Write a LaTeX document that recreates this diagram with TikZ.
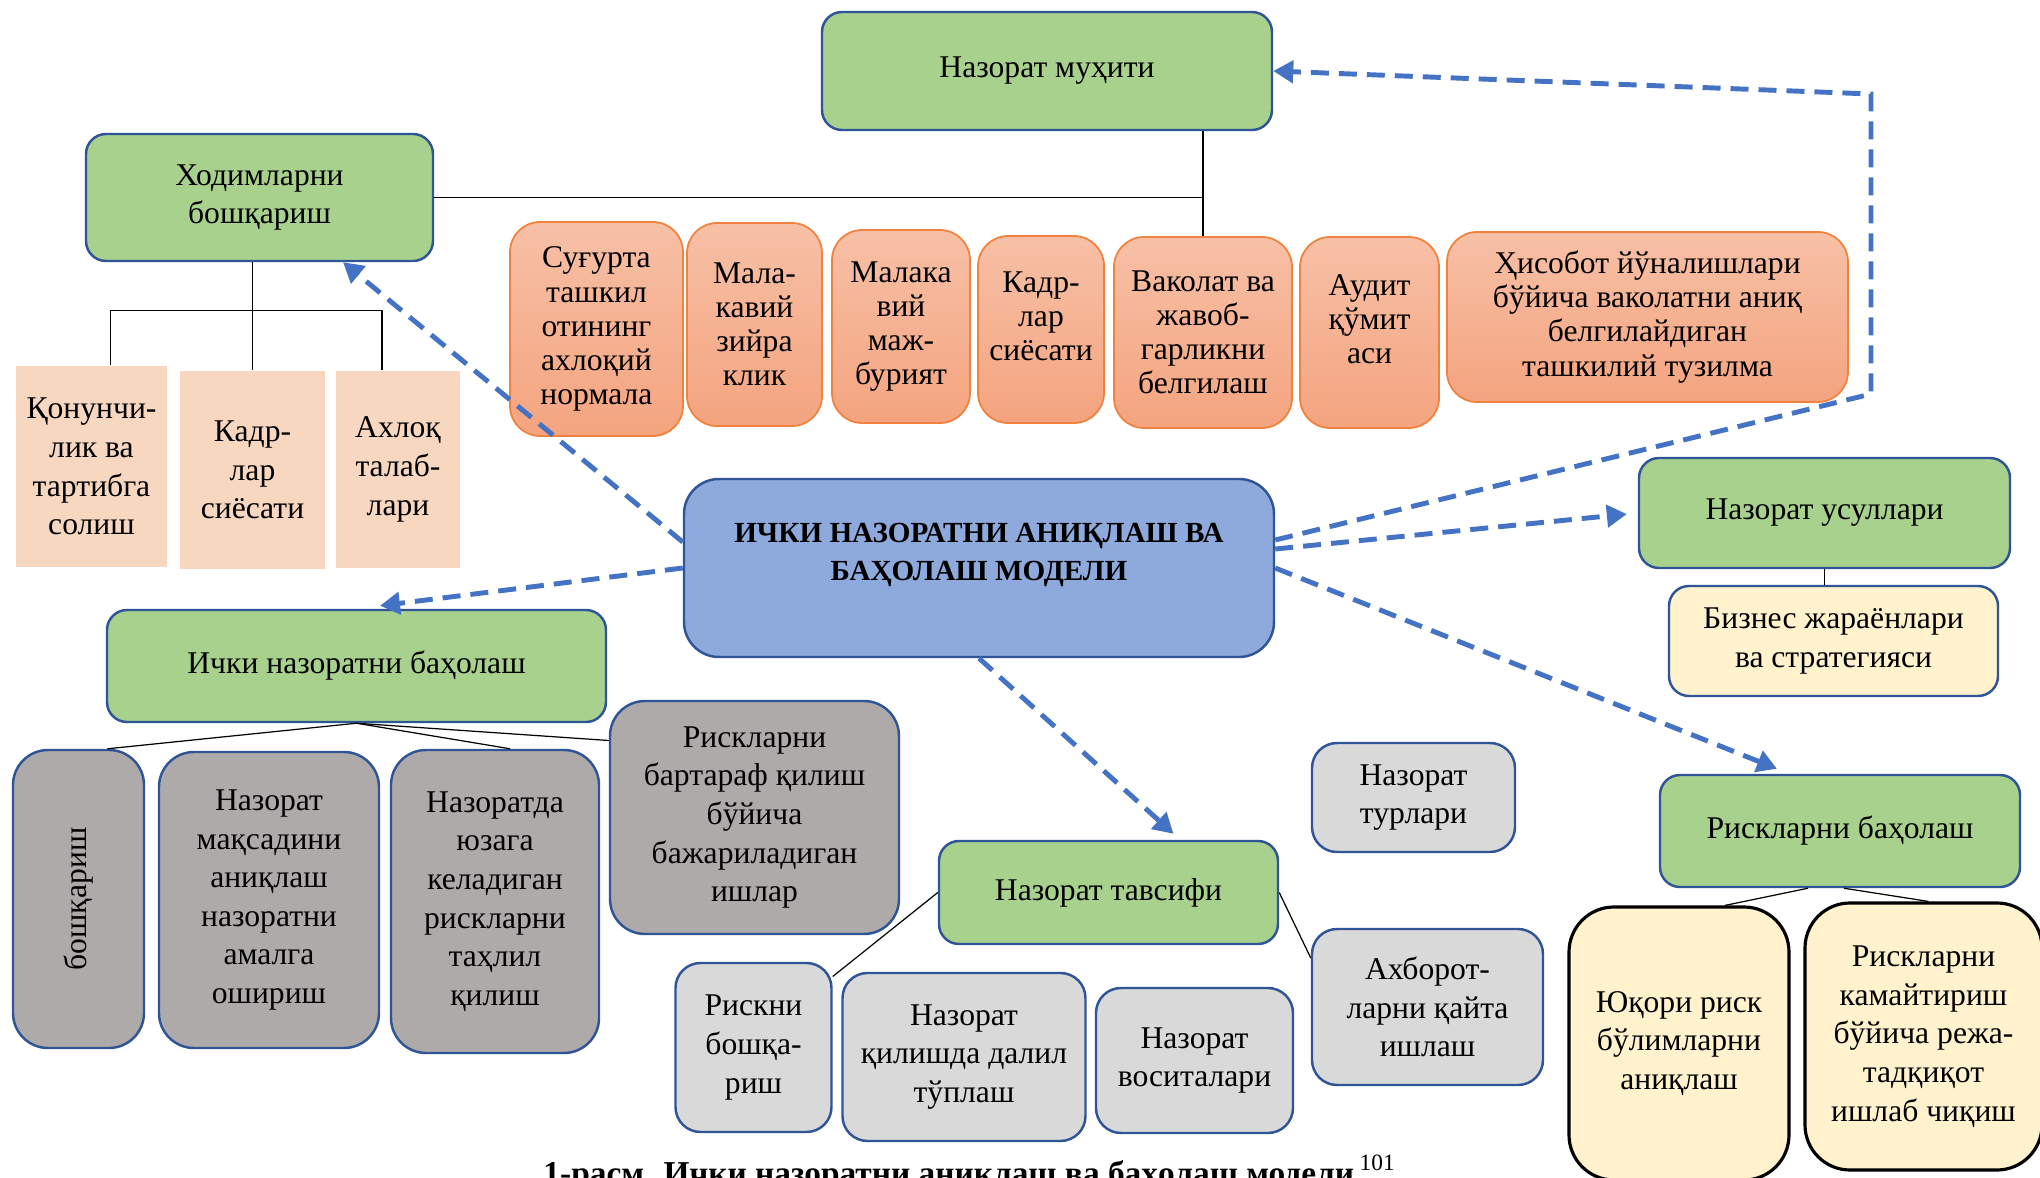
\documentclass[tikz,border=0pt]{standalone}
\usepackage{fontspec}
\setmainfont{Liberation Serif}
\usetikzlibrary{arrows.meta,positioning}

\definecolor{boxgreen}{HTML}{A9D18E}
\definecolor{boxblue}{HTML}{8EA9DB}
\definecolor{edgeblue}{HTML}{2F5597}
\definecolor{flowblue}{HTML}{4472C4}
\definecolor{peach}{HTML}{F8D7C0}
\definecolor{orangetop}{HTML}{F7C0A6}
\definecolor{orangebot}{HTML}{F4A47F}
\definecolor{orangeedge}{HTML}{F0823E}
\definecolor{darkgrey}{HTML}{AEAAAA}
\definecolor{lightgrey}{HTML}{D9D9D9}
\definecolor{cream}{HTML}{FFF2CC}

\begin{document}
\begin{tikzpicture}
  [every node/.style={align=center,font=\fontsize{9}{11}\selectfont,inner sep=1pt},
   dims/.style 2 args={minimum width=#1cm,minimum height=#2cm},
   box/.style={draw=edgeblue,line width=0.7pt,rounded corners=0.2cm},
   link/.style={draw=black,line width=0.35pt},
   flow/.style={-{Triangle[length=0.2cm,width=0.22cm]},draw=flowblue,line width=1.4pt,
                dash pattern=on 0.18cm off 0.1cm}]
  \tikzstyle{greenbox}=[box,fill=boxgreen]
  \tikzstyle{peachbox}=[fill=peach]
  \tikzstyle{orangebox}=[draw=orangeedge,line width=0.5pt,rounded corners=0.3cm,
                         top color=orangetop,bottom color=orangebot,
                         font=\fontsize{9}{9.7}\selectfont]
  \tikzstyle{greybox}=[box,fill=darkgrey,rounded corners=0.35cm]
  \tikzstyle{lightbox}=[box,fill=lightgrey,rounded corners=0.25cm]
  \tikzstyle{creambox}=[box,fill=cream]
  \tikzstyle{bigcream}=[draw=black,line width=0.9pt,fill=cream,rounded corners=0.45cm]

  \useasboundingbox (0,0) rectangle (20.40,-11.78);
  \clip (0,0) rectangle (20.40,-11.78);

  % top row
  \node[greenbox,dims={4.50}{1.18}] (env) at (10.47,-0.71) {Назорат муҳити};
  \node[greenbox,dims={3.47}{1.27}] (staff) at (2.595,-1.975) {Ходимларни\\бошқариш};

  \node[peachbox,dims={1.51}{2.01}] (law) at (0.915,-4.665) {Қонунчи-\\лик ва\\тартибга\\солиш};
  \node[peachbox,dims={1.45}{1.98}] (hr) at (2.525,-4.70) {Кадр-\\лар\\сиёсати};
  \node[peachbox,dims={1.24}{1.97}] (ethics) at (3.98,-4.695) {Ахлоқ\\талаб-\\лари};

  \node[orangebox,dims={1.73}{2.14}] (ins) at (5.965,-3.29) {Суғурта\\ташкил\\отининг\\ахлоқий\\нормала};
  \node[orangebox,dims={1.35}{2.03}] (prof) at (7.545,-3.245) {Мала-\\кавий\\зийра\\клик};
  \node[orangebox,dims={1.38}{1.93}] (duty) at (9.01,-3.265) {Малака\\вий\\маж-\\бурият};
  \node[orangebox,dims={1.26}{1.87}] (staffpol) at (10.41,-3.295) {Кадр-\\лар\\сиёсати\\[-0.08cm]};
  \node[orangebox,dims={1.78}{1.91}] (auth) at (12.03,-3.325) {Ваколат ва\\жавоб-\\гарликни\\белгилаш};
  \node[orangebox,dims={1.39}{1.91}] (audit) at (13.695,-3.325) {Аудит\\қўмит\\аси\\[-0.08cm]};
  \node[orangebox,dims={4.01}{1.70}] (report) at (16.475,-3.17) {Ҳисобот йўналишлари\\бўйича ваколатни аниқ\\белгилайдиган\\ташкилий тузилма};

  % centre
  \node[box,fill=boxblue,rounded corners=0.35cm,dims={5.90}{1.78}] (model) at (9.79,-5.68) {};
  \node[font=\bfseries\fontsize{8.3}{10.7}\selectfont] (modeltxt) at (9.79,-5.55)
    {ИЧКИ НАЗОРАТНИ АНИҚЛАШ ВА\\БАҲОЛАШ МОДЕЛИ};

  % right side
  \node[greenbox,dims={3.71}{1.10}] (methods) at (18.245,-5.13) {Назорат усуллари};
  \node[creambox,dims={3.29}{1.10}] (biz) at (18.335,-6.41) {Бизнес жараёнлари\\ва стратегияси};
  \node[greenbox,dims={3.60}{1.12}] (riskeval) at (18.40,-8.31) {Рискларни баҳолаш};
  \node[bigcream,dims={2.20}{2.73}] (high) at (16.79,-10.435) {Юқори риск\\бўлимларни\\аниқлаш};
  \node[bigcream,dims={2.37}{2.67}] (plan) at (19.235,-10.365) {Рискларни\\камайтириш\\бўйича режа-\\тадқиқот\\ишлаб чиқиш};

  % left bottom
  \node[greenbox,dims={4.99}{1.12}] (eval) at (3.565,-6.66) {Ички назоратни баҳолаш};
  \node[greybox,rotate=90,dims={2.98}{1.31}] (mgmt) at (0.785,-8.99) {бошқариш};
  \node[greybox,dims={2.20}{2.96}] (aim) at (2.69,-9.0) {Назорат\\мақсадини\\аниқлаш\\назоратни\\амалга\\ошириш};
  \node[greybox,dims={2.08}{3.03}] (analysis) at (4.95,-9.015) {Назоратда\\юзага\\келадиган\\рискларни\\таҳлил\\қилиш};
  \node[greybox,dims={2.89}{2.33}] (rem) at (7.545,-8.175) {Рискларни\\бартараф қилиш\\бўйича\\бажариладиган\\ишлар};

  % middle bottom
  \node[greenbox,dims={3.39}{1.03}] (descr) at (11.085,-8.925) {Назорат тавсифи};
  \node[lightbox,dims={2.03}{1.09}] (types) at (14.135,-7.975) {Назорат\\турлари};
  \node[lightbox,dims={1.56}{1.69}] (riskmgmt) at (7.535,-10.475) {Рискни\\бошқа-\\риш};
  \node[lightbox,dims={2.43}{1.68}] (evidence) at (9.64,-10.57) {Назорат\\қилишда далил\\тўплаш};
  \node[lightbox,dims={1.97}{1.45}] (tools) at (11.945,-10.605) {Назорат\\воситалари};
  \node[lightbox,dims={2.31}{1.56}] (info) at (14.275,-10.07) {Ахборот-\\ларни қайта\\ишлаш};

  \node[anchor=base,font=\bfseries\fontsize{9.5}{12}\selectfont] (caption) at (9.70,-11.84)
    {1-расм. Ички назоратни аниқлаш ва баҳолаш модели\,\textsuperscript{\mdseries 101}};

  % thin links
  \draw[link] (staff.east) -- (staff.east -| auth.north);
  \draw[link] (env.south -| auth.north) -- (auth.north);
  \draw[link] (staff.south -| hr.north) -- (hr.north);
  \draw[link] ([xshift=0.19cm]law.north) -- ++(0,0.55) -| ([xshift=-0.16cm]ethics.north);
  \draw[link] (methods.south) -- (methods.south |- biz.north);
  \draw[link] (eval.south) -- ([xshift=0.29cm]mgmt.east);
  \draw[link] (eval.south) -- ([xshift=0.15cm]analysis.north);
  \draw[link] (eval.south) -- ([yshift=0.77cm]rem.west);
  \draw[link] (descr.west) -- ([yshift=0.71cm]riskmgmt.east);
  \draw[link] (descr.east) -- ([yshift=0.49cm]info.west);
  \draw[link] ([xshift=-0.32cm]riskeval.south) -- ([xshift=0.46cm]high.north);
  \draw[link] ([xshift=0.04cm]riskeval.south) -- ([xshift=0.05cm]plan.north);

  % dashed arrows from the model
  \coordinate (bendlow) at (18.71,-3.94);
  \coordinate (bendhigh) at (18.71,-0.94);
  \draw[flow] ([yshift=0.26cm]model.west) -- ([xshift=0.835cm]staff.south);
  \draw[flow] (model.west) -- ([xshift=0.235cm,yshift=0.03cm]eval.north);
  \draw[flow] (model.south) -- ([xshift=0.65cm,yshift=0.06cm]descr.north);
  \draw[flow] (model.east) -- ([xshift=-0.63cm,yshift=0.05cm]riskeval.north);
  \draw[flow,shorten >=0.11cm] ([yshift=0.19cm]model.east) -- (methods.west);
  \draw[flow] ([yshift=0.28cm]model.east) -- (bendlow) -- (bendhigh) -- (env.east);
\end{tikzpicture}
\end{document}
